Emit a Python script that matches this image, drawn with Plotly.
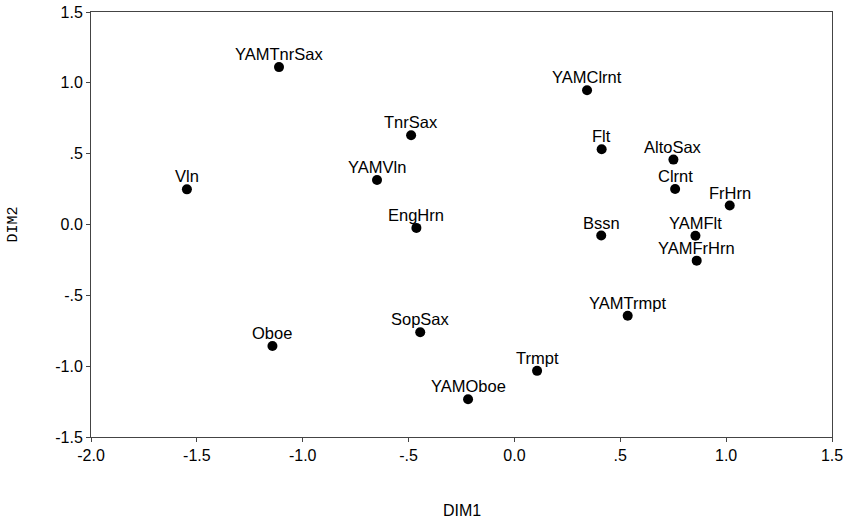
import plotly.graph_objects as go

labels = ["YAMTnrSax", "Vln", "YAMClrnt", "TnrSax", "YAMVln", "Flt", "AltoSax", "Clrnt",
          "FrHrn", "EngHrn", "Bssn", "YAMFlt", "YAMFrHrn", "YAMTrmpt", "SopSax", "Oboe",
          "Trmpt", "YAMOboe"]
dim1 = [-1.112, -1.547, 0.343, -0.488, -0.649, 0.412, 0.751, 0.759,
        1.017, -0.463, 0.41, 0.855, 0.861, 0.535, -0.445, -1.143,
        0.107, -0.219]
dim2 = [1.111, 0.248, 0.948, 0.63, 0.314, 0.531, 0.458, 0.25,
        0.134, -0.024, -0.078, -0.08, -0.255, -0.644, -0.76, -0.858,
        -1.033, -1.234]

xticks = [-2.0, -1.5, -1.0, -0.5, 0.0, 0.5, 1.0, 1.5]
xticklabels = ["-2.0", "-1.5", "-1.0", "-.5", "0.0", ".5", "1.0", "1.5"]
yticks = [-1.5, -1.0, -0.5, 0.0, 0.5, 1.0, 1.5]
yticklabels = ["-1.5", "-1.0", "-.5", "0.0", ".5", "1.0", "1.5"]

font = "Liberation Sans, Arial, sans-serif"

fig = go.Figure()
fig.add_trace(go.Scatter(
    x=dim1, y=dim2, mode="markers", text=labels,
    marker=dict(size=10, color="black"),
    cliponaxis=False, showlegend=False, hoverinfo="text",
))
for lab, xv, yv in zip(labels, dim1, dim2):
    fig.add_annotation(x=xv, y=yv, text=lab, showarrow=False,
                       xanchor="center", yanchor="middle", yshift=13,
                       font=dict(family=font, size=16.5, color="black"))

axis_common = dict(
    showgrid=False, zeroline=False, showline=True, linecolor="#444",
    linewidth=1, mirror=True, ticks="outside", ticklen=4, tickcolor="#444",
    tickfont=dict(family=font, size=16, color="black"), automargin=False,
)
fig.update_xaxes(range=[-2.0, 1.5], tickvals=xticks, ticktext=xticklabels, **axis_common)
fig.update_yaxes(range=[-1.5, 1.5], tickvals=yticks, ticktext=yticklabels, **axis_common)

fig.add_annotation(text="DIM1", xref="paper", yref="paper", x=0.5, y=0,
                   yshift=-73, showarrow=False, yanchor="middle",
                   font=dict(family=font, size=16, color="black"))
fig.add_annotation(text="DIM2", xref="paper", yref="paper", x=0, y=0.5,
                   xshift=-78, showarrow=False, textangle=-90, xanchor="center",
                   font=dict(family="Liberation Mono, monospace", size=15, color="black"))

fig.update_layout(
    width=846, height=519,
    margin=dict(l=91, r=14, t=12, b=82),
    plot_bgcolor="white", paper_bgcolor="white",
)
fig.write_html("out.html")
